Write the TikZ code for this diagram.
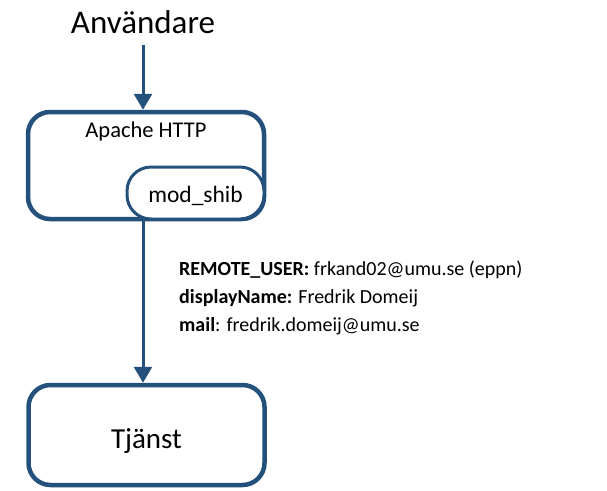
\documentclass[tikz,border=0pt]{standalone}
\usepackage{fontspec}
\setmainfont{Carlito}
\usetikzlibrary{arrows.meta}
\definecolor{boxblue}{RGB}{36,80,124}
\begin{document}
\begin{tikzpicture}[x=1pt,y=-1pt,
  bigbox/.style={draw=boxblue, line width=4.5pt, rounded corners=22pt, fill=white, inner sep=0pt},
  smallbox/.style={draw=boxblue, line width=3pt, rounded corners=24pt, fill=white, inner sep=0pt},
  arr/.style={draw=boxblue, line width=3pt, -{Triangle[width=18pt,length=16pt]}},
  txt/.style={inner sep=0pt, anchor=base}
]
\useasboundingbox (0,0) rectangle (607,490);
\node[txt, inner ysep=12pt, font=\fontsize{33}{38}\selectfont] (user) at (143,33) {Användare};
\node[bigbox, minimum width=236pt, minimum height=107pt] (apache) at (146,165.5) {};
\node[txt, font=\fontsize{22.5}{26}\selectfont] (apachelbl) at (146,137) {Apache HTTP};
\node[smallbox, minimum width=137pt, minimum height=52pt, font=\fontsize{23.5}{28}\selectfont, text height=19pt, text depth=0pt] (modshib) at (195.5,193) {mod\_shib};
\node[bigbox, minimum width=236pt, minimum height=100pt, font=\fontsize{29}{34}\selectfont, text height=26pt, text depth=0pt] (tjanst) at (146.5,435) {Tjänst};
\draw[arr] (user.south) -- (user.south |- apache.north);
\draw[arr] (user.south |- apache.south) -- (user.south |- tjanst.north);
\node[inner sep=0pt, anchor=base west, align=left, font=\fontsize{20}{28}\selectfont] (attrs) at (179,331)
  {\textbf{REMOTE\_USER:} frkand02@umu.se (eppn)\\
   \textbf{displayName:} Fredrik Domeij\\
   \textbf{mail}: fredrik.domeij@umu.se};
\end{tikzpicture}
\end{document}
